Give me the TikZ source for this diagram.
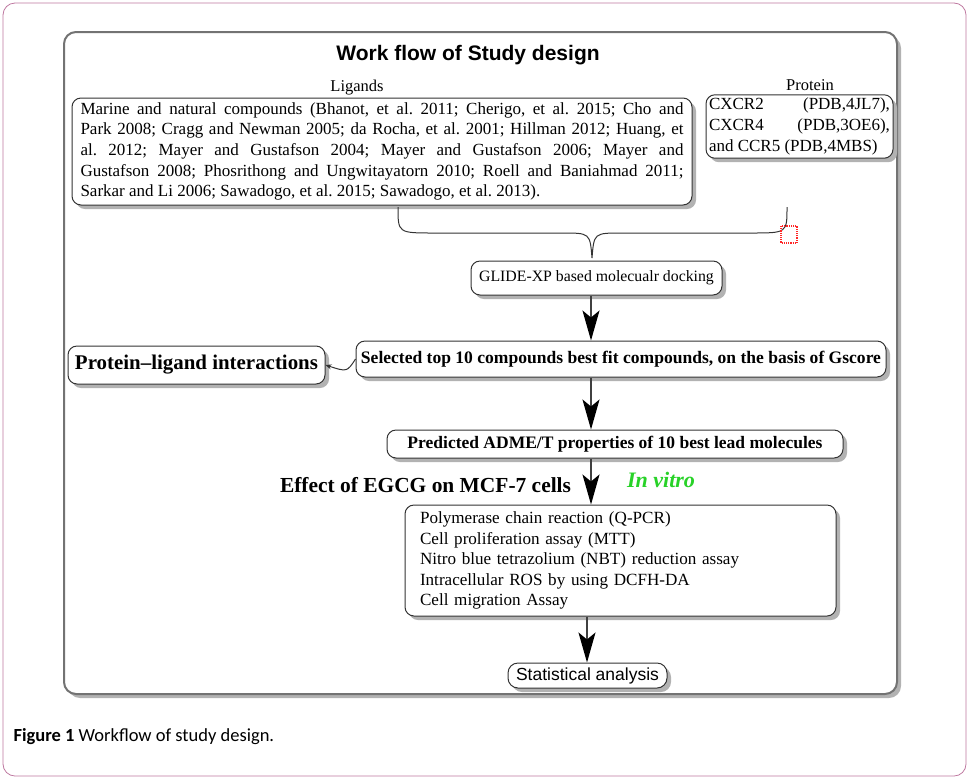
\documentclass[tikz,border=0pt]{standalone}
\usepackage{fontspec}
\setmainfont{Liberation Serif}
\newfontfamily\arialf{Liberation Sans}
\newfontfamily\calf{Carlito}
\usetikzlibrary{shadows,arrows.meta}
\definecolor{framepink}{RGB}{190,120,160}
\definecolor{vitrogreen}{RGB}{40,210,40}
\tikzset{
  box/.style={draw=black!80, line width=1pt, rounded corners=9pt, fill=white,
    drop shadow={shadow xshift=4pt, shadow yshift=-4pt, fill=black!30, opacity=1}},
  bigarrow/.style={draw=black!75, line width=1.6pt, -{Stealth[length=30pt,width=17pt,inset=7pt,color=black,fill=black]}},
}
\begin{document}
\frenchspacing
\begin{tikzpicture}[x=1pt,y=-1pt]
\useasboundingbox (0,0) rectangle (969,780);
% outer frame
\draw[framepink, line width=0.8pt, rounded corners=12pt] (3,3) rectangle (966,776);
% inner frame
\node[box, draw=black!55, line width=2pt, rounded corners=12pt, minimum width=833pt, minimum height=662pt, inner sep=0pt] (frame) at (480.5,363) {};
% title
\node[font=\arialf\bfseries\fontsize{21}{24}\selectfont] (title) at (468,55) {Work flow of Study design};
\node[font=\fontsize{16.5}{19}\selectfont] (ligl) at (357,88) {Ligands};
\node[font=\fontsize{16.5}{19}\selectfont] (protl) at (810,85) {Protein};
% ligand box
\node[box, minimum width=620pt, minimum height=107pt, text width=603pt, inner xsep=8.5pt, align=justify,
  font=\fontsize{17}{20.7}\selectfont] (lig) at (382,151.5)
 {Marine and natural compounds (Bhanot, et al. 2011; Cherigo, et al. 2015; Cho and\linebreak
 Park 2008; Cragg and Newman 2005; da Rocha, et al. 2001; Hillman 2012; Huang, et\linebreak
 al. 2012; Mayer and Gustafson 2004; Mayer and Gustafson 2006; Mayer and\linebreak
 Gustafson 2008; Phosrithong and Ungwitayatorn 2010; Roell and Baniahmad 2011;\linebreak
 Sarkar and Li 2006; Sawadogo, et al. 2015; Sawadogo, et al. 2013).};
% protein box
\node[box, minimum width=187pt, minimum height=63pt, text width=181pt, inner xsep=3pt, align=justify,
  font=\fontsize{17}{20.7}\selectfont] (prot) at (799.5,126.5)
 {CXCR2 (PDB,4JL7),\linebreak CXCR4 (PDB,3OE6),\linebreak and CCR5 (PDB,4MBS)};
% brace
\coordinate (bl) at (398,207);
\coordinate (br) at (787,207);
\coordinate (btip) at (592,258);
\draw[black!80, line width=1pt] (bl) .. controls (398,233) .. (434,233) -- (562,233) .. controls (590,233) .. (btip)
  .. controls (594,233) .. (622,233) -- (751,233) .. controls (787,233) .. (br);
\draw[red!85, densely dotted, line width=1.2pt] (781,226) rectangle (797,243);
% glide
\node[box, minimum width=251pt, minimum height=34pt, font=\fontsize{15.8}{18}\selectfont] (glide) at (596.5,278)
 {GLIDE-XP based molecualr docking};
% selected
\node[box, minimum width=530pt, minimum height=36pt, inner xsep=2pt] (sel) at (621,359)
 {\resizebox{520pt}{!}{\bfseries\fontsize{15}{18}\selectfont Selected top 10 compounds best fit compounds, on the basis of Gscore}};
% protein-ligand interactions
\node[box, minimum width=257pt, minimum height=38pt, inner xsep=2pt] (pli) at (196.5,365)
 {\resizebox{243pt}{!}{\bfseries\fontsize{20}{24}\selectfont Protein--ligand interactions}};
% ADME
\node[box, minimum width=456pt, minimum height=28pt, inner xsep=2pt] (adme) at (615,444)
 {\resizebox{415pt}{!}{\bfseries\fontsize{15}{18}\selectfont Predicted ADME/T properties of 10 best lead molecules}};
% effect label
\node (effect) at (425.5,485) {\resizebox{291pt}{!}{\bfseries\fontsize{20}{24}\selectfont Effect of EGCG on MCF-7 cells}};
\node[text=vitrogreen] (vitro) at (661,480) {\resizebox{68pt}{!}{\bfseries\itshape\fontsize{18}{22}\selectfont In vitro}};
% list box
\node[box, minimum width=431pt, minimum height=111pt, text width=401pt, inner xsep=15pt, align=left,
  font=\fontsize{17.1}{20.5}\selectfont] (list) at (620.5,560.5)
 {Polymerase chain reaction (Q-PCR)\\
 Cell proliferation assay (MTT)\\
 Nitro blue tetrazolium (NBT) reduction assay\\
 Intracellular ROS by using DCFH-DA\\
 Cell migration Assay};
% statistical
\node[box, minimum width=159pt, minimum height=25pt, inner xsep=2pt, rounded corners=10pt,
  font=\arialf\fontsize{17.5}{20}\selectfont] (stat) at (587.5,675.5)
 {Statistical analysis};
% arrows
\draw[bigarrow] (glide.south -| 591,0) -- (sel.north -| 591,0);
\draw[bigarrow] (sel.south -| 591,0) -- (adme.north -| 591,0);
\draw[bigarrow] (adme.south -| 591,0) -- (list.north -| 591,0);
\draw[bigarrow] (list.south -| 587,0) -- (stat.north -| 587,0);
\draw[black!80, line width=1pt, -{Stealth[length=6pt,width=5pt]}] (sel.west) .. controls (347,372) .. (pli.east);
% caption
\node[anchor=west, font=\calf\fontsize{18.5}{22}\selectfont] (cap) at (10,737) {\textbf{Figure 1} Workflow of study design.};
\end{tikzpicture}
\end{document}
